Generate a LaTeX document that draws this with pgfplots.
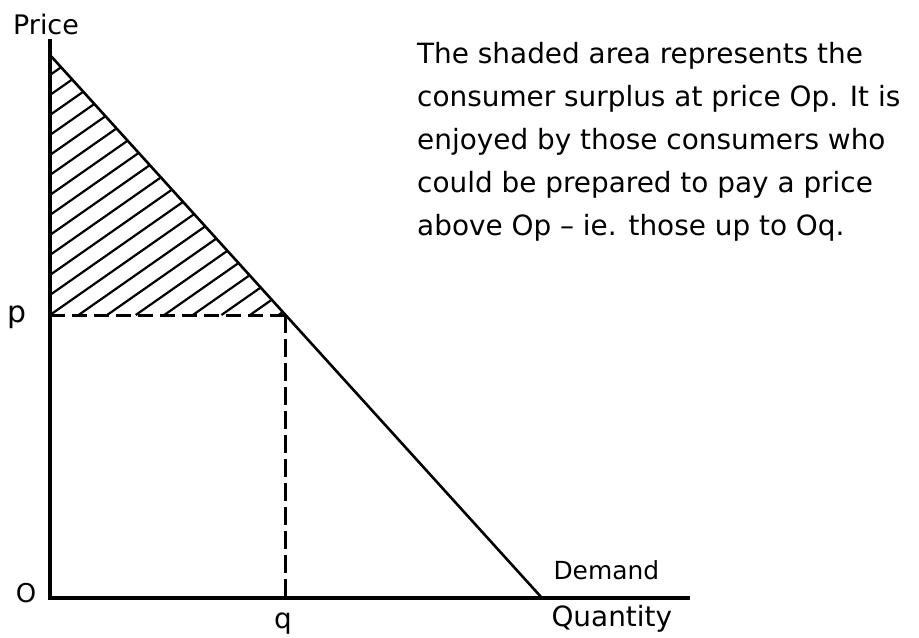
\documentclass[border=0pt]{standalone}
\usepackage{pgfplots}
\pgfplotsset{compat=1.18}
\usepackage{fontspec}
\setmainfont{DejaVu Sans}

\begin{document}
\begin{tikzpicture}
\begin{axis}[
  x=1bp, y=1bp,
  xmin=0, xmax=640, ymin=0, ymax=559,
  hide axis, clip=false,
  unbounded coords=jump,
]
% price and quantity axes
\addplot[black, line width=3.4bp, line cap=butt, line join=miter]
  coordinates {(0,559) (0,0) (640,0)};

% demand curve
\addplot[black, line width=2.6bp] coordinates {(0,543) (492,0)};

% consumer surplus hatching (segments between the price axis / price line and demand)
\addplot[black, line width=2.2bp] coordinates {
  (0,283) (144.15,383.90) (nan,nan)
  (0,303) (133.06,396.14) (nan,nan)
  (0,323) (121.97,408.38) (nan,nan)
  (0,343) (110.88,420.62) (nan,nan)
  (0,363) (99.79,432.85) (nan,nan)
  (0,383) (88.71,445.09) (nan,nan)
  (0,403) (77.62,457.33) (nan,nan)
  (0,423) (66.53,469.57) (nan,nan)
  (0,443) (55.44,481.81) (nan,nan)
  (0,463) (44.35,494.05) (nan,nan)
  (0,483) (33.27,506.29) (nan,nan)
  (0,503) (22.18,518.52) (nan,nan)
  (0,523) (11.09,530.76) (nan,nan)
  (28.57,283) (155.24,371.67) (nan,nan)
  (57.14,283) (166.33,359.42) (nan,nan)
  (85.71,283) (177.41,347.19) (nan,nan)
  (114.29,283) (188.50,334.95) (nan,nan)
  (142.86,283) (199.59,322.71) (nan,nan)
  (171.43,283) (210.68,310.47) (nan,nan)
  (200.00,283) (221.77,298.23) (nan,nan)
  (228.57,283) (232.85,286.00)
};

% price p and quantity q guide lines
\addplot[black, line width=3bp, dash pattern=on 15bp off 7bp]
  coordinates {(0,283) (235.6,283)};
\addplot[black, line width=3bp, dash pattern=on 18bp off 6bp]
  coordinates {(235.6,283) (235.6,0)};

% labels
\node[anchor=base, font=\fontsize{27}{32}\selectfont] at (axis cs:-4,563) {Price};
\node[anchor=base, font=\fontsize{30}{32}\selectfont] at (axis cs:-33,276) {p};
\node[anchor=base, font=\fontsize{26}{32}\selectfont] at (axis cs:-24,-4) {O};
\node[anchor=base, font=\fontsize{28}{32}\selectfont] at (axis cs:233,-30) {q};
\node[anchor=base west, font=\fontsize{25}{32}\selectfont] at (axis cs:500,19) {Demand};
\node[anchor=base west, font=\fontsize{28}{32}\selectfont] at (axis cs:498,-28) {Quantity};

% explanatory note
\begin{scope}[every node/.style={anchor=base west, inner xsep=0pt, font=\fontsize{28}{43}\selectfont}]
\node at (axis cs:367,534.5) {The shaded area represents the};
\node at (axis cs:367,491.5) {consumer surplus at price Op. It is};
\node at (axis cs:367,448.5) {enjoyed by those consumers who};
\node at (axis cs:367,405.5) {could be prepared to pay a price};
\node at (axis cs:367,362.5) {above Op -- ie. those up to Oq.};
\end{scope}

% page extent
\path (axis cs:-50,-39) rectangle (axis cs:869,598);
\end{axis}
\end{tikzpicture}
\end{document}
